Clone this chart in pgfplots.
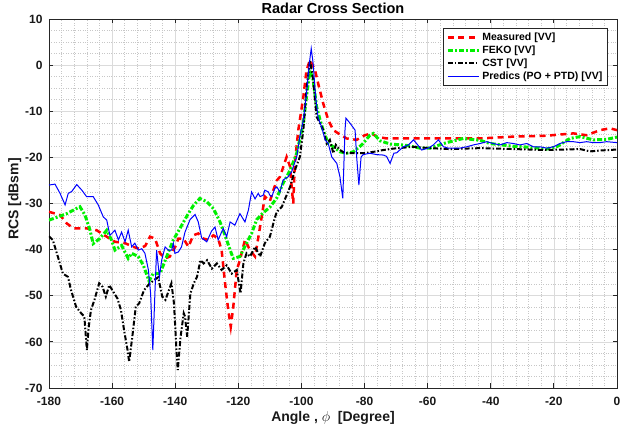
\documentclass[border=0pt]{standalone}
\usepackage{fontspec}
\setmainfont{Liberation Sans}
\usepackage{pgfplots}
\pgfplotsset{compat=1.18}
\begin{document}
\begin{tikzpicture}
\useasboundingbox (-49pt,-42pt) rectangle (591pt,388pt);
\begin{axis}[
 at={(0pt,0pt)}, anchor=south west,
 scale only axis, width=568pt, height=369pt,
 xmin=-180, xmax=0, ymin=-70, ymax=10,
 xtick={-180,-160,-140,-120,-100,-80,-60,-40,-20,0},
 xticklabels={-180,-160,-140,-120,-100,-80,-60,-40,-20,0},
 ytick={-70,-60,-50,-40,-30,-20,-10,0,10},
 yticklabels={-70,-60,-50,-40,-30,-20,-10,0,10},
 minor x tick num=4, minor y tick num=3,
 grid=both,
 major grid style={black!14, line width=0.5pt},
 minor grid style={black!22, dotted, line width=0.5pt},
 tick align=inside, major tick length=4.5pt, minor tick length=0pt,
 axis line style={black!85, line width=0.8pt},
 tick style={black!85, line width=0.8pt},
 ticklabel style={font=\fontsize{12}{14}\selectfont\bfseries, text=black!90},
 xticklabel style={yshift=-6pt},
 yticklabel style={xshift=-3pt},
 title={Radar Cross Section},
 title style={font=\fontsize{14.5}{16}\selectfont\bfseries, at={(axis description cs:0.5,1.0154)}, anchor=base, yshift=-6pt},
 xlabel={Angle , $\phi$\ \ [Degree]},
 xlabel style={font=\fontsize{14}{16}\selectfont\bfseries, text=black!90, at={(axis description cs:0.5,-0.0921)}, anchor=base},
 ylabel={RCS [dBsm]},
 ylabel style={font=\fontsize{14}{16}\selectfont\bfseries, text=black!90, at={(axis description cs:-0.054,0.512)}, anchor=base},
 legend style={at={(axis description cs:0.9836,0.9748)}, anchor=north east,
   font=\fontsize{10.5}{12}\selectfont\bfseries, draw=black!85, line width=0.8pt, fill=white},
 legend cell align=left,
 legend image code/.code={\draw[#1] (0pt,0pt) -- (31pt,0pt);},
]
\addplot[red, line width=2.5pt, dash pattern=on 6pt off 4.5pt] coordinates {
(-180,-31.8) (-176.5,-32.5) (-174.4,-34.3) (-172.2,-35.4) (-168,-35.4) (-164.9,-35.8) (-161.7,-37.2) (-159.1,-38.3) (-155.9,-38.6) (-153.3,-39.4) (-151.5,-39.8) (-149.5,-39.2) (-148,-37.2) (-146.4,-37.6) (-144.8,-40.8) (-143.2,-41.9) (-141.7,-41.5) (-140,-39.4) (-139,-37.6) (-137.4,-37.6) (-135.8,-39.4) (-134.3,-36.9) (-132.7,-36.5) (-131.1,-37.6) (-129.5,-37.9) (-127.9,-36.9) (-126.4,-37.6) (-125.3,-40.1) (-124.2,-47.3) (-123.2,-53.1) (-122.4,-56.7) (-121.6,-52.4) (-120.5,-44.4) (-119.5,-42.3) (-117.9,-37.9) (-116.3,-40.1) (-114.7,-41.5) (-113.7,-37.5) (-112.6,-32.9) (-111.6,-28.5) (-110,-29.5) (-108.9,-27.1) (-107.8,-25) (-106.8,-24.2) (-104.7,-19.9) (-103.6,-22) (-103.1,-26.4) (-102.6,-30.0) (-102.1,-21.3) (-101,-14.1) (-99.4,-6.9) (-98.4,-1.1) (-97.3,1.1) (-95.7,-1.1) (-94.7,-4.0) (-93.1,-8.3) (-91.5,-11.9) (-89.9,-14.1) (-88.3,-14.8) (-85.7,-15.9) (-82.5,-16.2) (-79.9,-15.2) (-77.8,-14.8) (-76.2,-15.5) (-73,-15.9) (-68.8,-15.9) (-64.5,-15.9) (-54,-15.9) (-43.4,-15.9) (-32.8,-15.5) (-22.3,-15.3) (-13.8,-14.8) (-9.6,-15.2) (-5.4,-14.1) (-2.2,-13.7) (0,-14.1)
};
\addlegendentry{Measured [VV]}
\addplot[color={rgb,255:red,0;green,240;blue,0}, line width=3pt, dash pattern=on 5pt off 2pt on 2pt off 2pt] coordinates {
(-180,-33.6) (-177.1,-32.9) (-174.4,-32.2) (-170.2,-30.7) (-168.6,-32.5) (-167,-35.8) (-166,-38.7) (-163.9,-37.6) (-161.7,-35.8) (-160.2,-37.9) (-159.1,-40.1) (-157,-39.1) (-154.9,-41.9) (-153.8,-40.8) (-151.7,-41.5) (-150.1,-43.4) (-148.3,-46.8) (-147,-45.2) (-144.8,-45.2) (-142.7,-41.5) (-140.6,-37.9) (-138.5,-35.4) (-136.2,-32.6) (-134.3,-30.5) (-132.2,-28.9) (-130,-29.6) (-127.9,-31.1) (-125.8,-34.0) (-124.2,-36.9) (-122.6,-40.1) (-121.6,-41.9) (-119.5,-41.5) (-117.4,-38.6) (-115.8,-36.5) (-114.2,-33.5) (-112.1,-32) (-110,-30.8) (-107.8,-28.8) (-105.8,-25.6) (-103.6,-22.8) (-101.5,-19.1) (-99.4,-12.6) (-98.4,-6.9) (-97.3,-1.1) (-96.3,-3.2) (-95.2,-9.0) (-94.1,-11.9) (-93.1,-14.1) (-91.5,-17.0) (-89.9,-17.7) (-87.8,-18.8) (-85.7,-19.1) (-83.6,-18.8) (-80.9,-17.3) (-78.3,-15.2) (-77.2,-14.8) (-75.1,-16.4) (-71.9,-17.1) (-66.7,-17.4) (-62.4,-18.0) (-59.3,-18.0) (-54,-16.8) (-48.7,-15.9) (-43.4,-16.3) (-40.2,-17.0) (-32.8,-17.6) (-27.6,-17.8) (-22.3,-18.2) (-19.1,-17.7) (-14.9,-15.9) (-11.7,-15.5) (-7.5,-16.2) (-3.3,-16.1) (0,-15.6)
};
\addlegendentry{FEKO [VV]}
\addplot[black, line width=2pt, dash pattern=on 5pt off 2pt on 1.5pt off 2pt] coordinates {
(-180,-37.1) (-178.8,-37.9) (-177.2,-41.5) (-175.6,-45.2) (-174,-45.9) (-173,-48.8) (-171.4,-52.4) (-169.8,-53.8) (-168.8,-54.5) (-168,-61.8) (-167.4,-56.7) (-166.7,-53.1) (-165.6,-50.9) (-164.1,-47.3) (-163,-48.1) (-162,-50.2) (-160.9,-47.7) (-159.3,-49.5) (-158.3,-50.6) (-157.2,-53.1) (-156.2,-57.5) (-155.1,-61.8) (-154.6,-64.3) (-153.6,-58.9) (-152.5,-52.4) (-151.4,-51.6) (-149.9,-48.8) (-148.3,-47.5) (-146.7,-46.6) (-145.4,-46.0) (-144.1,-50.2) (-143.1,-50.9) (-142,-48.8) (-141.2,-47.3) (-140.4,-51.6) (-139.6,-61.8) (-139.2,-66.1) (-138.3,-58.9) (-137.3,-53.8) (-136.9,-54.5) (-136.2,-58.9) (-135.2,-49.5) (-134.1,-47.3) (-133.1,-45.9) (-132,-42.3) (-131,-43.0) (-129.9,-42.3) (-128.4,-44.1) (-126.8,-43.0) (-125.3,-44.4) (-123.7,-43.4) (-122.1,-45.2) (-120.5,-44.4) (-119.3,-49.5) (-118.4,-43.0) (-117.4,-40.8) (-116.3,-41.5) (-114.7,-39.4) (-113.1,-41.5) (-111.6,-38.6) (-110,-37.2) (-108.4,-33) (-107.8,-31.8) (-106.2,-30.7) (-104.7,-28.2) (-103.6,-26.4) (-102.1,-22.8) (-100.5,-19.9) (-99.4,-14.1) (-98.4,-5.4) (-97.3,1.1) (-96.3,-3.2) (-95.2,-11.2) (-94.1,-12.6) (-93.1,-14.1) (-92,-17.0) (-91,-16.2) (-89.9,-19.1) (-89.1,-17.3) (-87.8,-18.4) (-86.2,-19.1) (-83.6,-19.1) (-80.4,-19.1) (-77.2,-18.8) (-74,-18.4) (-70.9,-18.1) (-64.5,-17.7) (-59.3,-18.0) (-53,-18.2) (-43.4,-18.0) (-32.8,-18.2) (-22.3,-18.4) (-11.7,-18.2) (-8.6,-18.7) (-5,-18.5) (0,-18.3)
};
\addlegendentry{CST [VV]}
\addplot[blue, line width=1pt] coordinates {
(-180,-26.0) (-178.1,-25.8) (-176.5,-27.8) (-174.9,-30.3) (-173.9,-27.8) (-172.8,-27.4) (-171.2,-25.9) (-169.6,-27.1) (-168.1,-28.5) (-166,-28.5) (-164.4,-30.3) (-162.8,-32.9) (-161.7,-33.6) (-160.7,-36.9) (-159.1,-35.8) (-158,-37.9) (-157,-36.2) (-155.9,-38.3) (-154.9,-35.8) (-153.8,-39.4) (-152.8,-38.6) (-151.7,-40.1) (-150.6,-39.8) (-149.6,-40.8) (-148.5,-44.4) (-147.8,-49.5) (-147.1,-61.8) (-146.4,-48.8) (-145.9,-40.1) (-145,-45.9) (-144.3,-42.3) (-143.2,-39.4) (-142.2,-40.1) (-141.1,-40.1) (-140.6,-38.6) (-140.1,-40.8) (-139,-40.5) (-138,-39.4) (-136.9,-36.2) (-135.3,-33.5) (-133.7,-32.4) (-132.7,-34) (-131.6,-37.5) (-130,-38.3) (-128.5,-36) (-127.4,-35.1) (-126.4,-37.9) (-124.8,-35.4) (-123.7,-37.2) (-122.6,-34.0) (-121.1,-34.7) (-119.5,-32.2) (-117.9,-34.0) (-116.8,-31.4) (-115.8,-27.5) (-114.7,-29) (-113.7,-27.8) (-113.1,-28.5) (-112.1,-28.2) (-111.6,-27.1) (-110.5,-27.5) (-110,-28.2) (-109.4,-28.5) (-108.4,-26.7) (-107.8,-26.4) (-106.8,-27.5) (-105.8,-24.9) (-104.2,-24.2) (-103.1,-23.1) (-101.5,-19.9) (-100.5,-15.5) (-99.4,-11.9) (-98.4,-6.1) (-97.5,0.4) (-96.9,3.6) (-96.3,0.4) (-95.5,-6.9) (-94.7,-11.5) (-93.6,-13.4) (-92.5,-16.2) (-91.5,-17.0) (-90.4,-19.9) (-88.8,-21.3) (-87.8,-24.2) (-86.9,-28.9) (-86.2,-14.1) (-85.9,-11.5) (-84.6,-12.6) (-83.0,-14.1) (-82.5,-19.9) (-81.8,-26.0) (-81.1,-19.9) (-80.4,-19.4) (-78.3,-19.1) (-76.2,-19.4) (-74,-19.5) (-73,-19.8) (-71.9,-21.3) (-70.7,-19.1) (-69.8,-19.0) (-67.7,-17.7) (-66.1,-17.3) (-64.5,-16.2) (-63.5,-17.0) (-61.9,-18.4) (-59.8,-18.0) (-58.2,-17.3) (-56.6,-16.2) (-55,-17.7) (-53.5,-18.0) (-51.9,-18.0) (-49.8,-18.0) (-47.6,-17.7) (-45.5,-17.3) (-43.4,-17.0) (-41.3,-16.6) (-39.2,-17.0) (-37.1,-17.3) (-34.9,-16.8) (-32.8,-17.0) (-30.8,-17.3) (-28.6,-17.0) (-26.5,-17.7) (-24.4,-17.7) (-22.3,-18.0) (-20.1,-17.7) (-18.1,-17.0) (-16,-16.6) (-13.8,-16.6) (-11.7,-16.8) (-9.6,-16.6) (-7.5,-16.8) (-5.4,-16.8) (-3.3,-16.6) (0,-16.8)
};
\addlegendentry{Predics (PO + PTD) [VV]}
\end{axis}
\end{tikzpicture}
\end{document}
